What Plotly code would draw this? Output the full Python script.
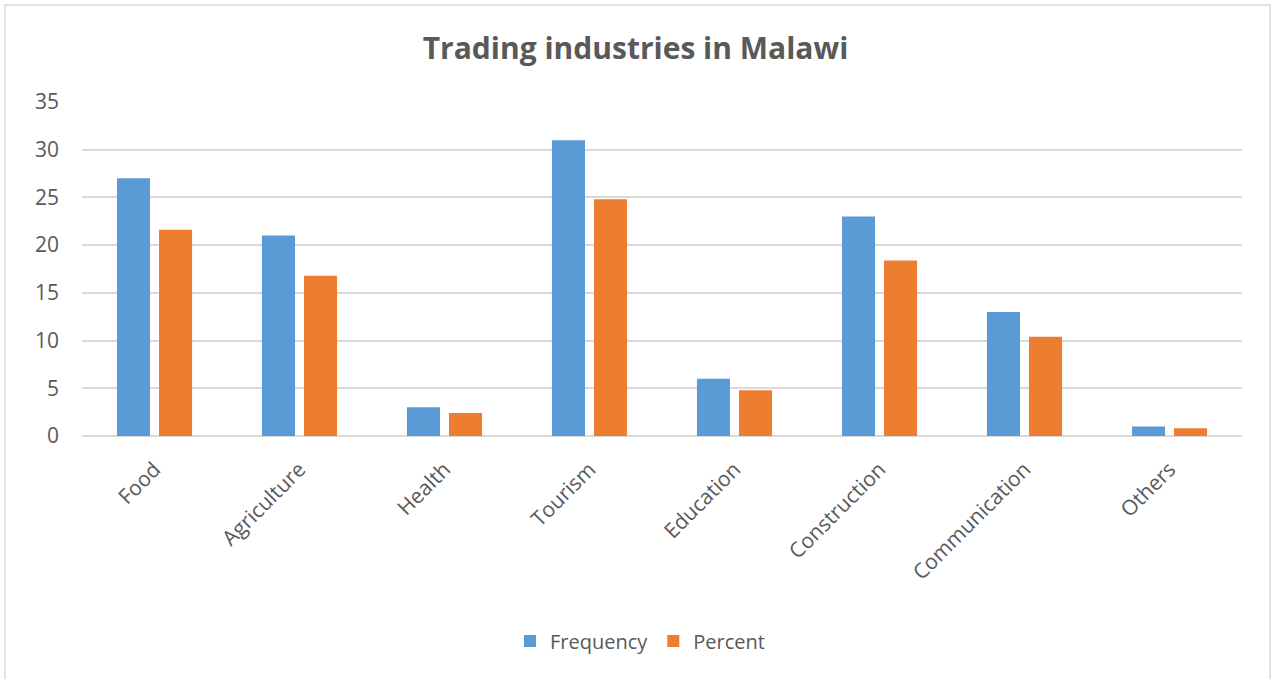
import plotly.graph_objects as go

categories = ["Food", "Agriculture", "Health", "Tourism", "Education", "Construction", "Communication", "Others"]
frequency = [27, 21, 3, 31, 6, 23, 13, 1]
percent = [21.6, 16.8, 2.4, 24.8, 4.8, 18.4, 10.4, 0.8]
y_ticks = [0, 5, 10, 15, 20, 25, 30, 35]

FONT = "Open Sans"
TXT = "#595959"
GRID = "#d9d9d9"

fig = go.Figure()
fig.add_trace(go.Bar(name="Frequency", x=categories, y=frequency, marker=dict(color="#5B9BD5", line=dict(width=0))))
fig.add_trace(go.Bar(name="Percent", x=categories, y=percent, marker=dict(color="#ED7D31", line=dict(width=0))))

W, H = 1271, 679
L, R, T, B = 82, 29, 102, 243
pw, ph = W - L - R, H - T - B

def px(x):
    return (x - L) / pw

def py(y):
    return (H - B - y) / ph

fig.update_layout(
    width=W, height=H,
    margin=dict(l=L, r=R, t=T, b=B, autoexpand=False),
    paper_bgcolor="white", plot_bgcolor="white",
    font=dict(family=FONT, color=TXT, size=20),
    title=dict(text="<b>Trading industries in Malawi</b>", x=0.5, xref="container", xanchor="center",
               y=1 - 48 / H, yref="container", yanchor="middle",
               font=dict(family=FONT, size=30, color=TXT)),
    barmode="group", bargap=0.42, bargroupgap=0.214,
    showlegend=True,
    legend=dict(orientation="h", x=px(640), xanchor="center", y=py(641), yanchor="middle",
                font=dict(family=FONT, size=20, color=TXT), itemsizing="constant",
                traceorder="normal", itemwidth=30),
    xaxis=dict(tickangle=-45, showgrid=False, showline=False, ticks="", ticklabelstandoff=16,
               tickfont=dict(family=FONT, size=21, color=TXT)),
    yaxis=dict(range=[0, 35], tickvals=y_ticks, showgrid=True, gridcolor=GRID, gridwidth=1.5,
               zeroline=True, zerolinecolor=GRID, zerolinewidth=1.5, showline=False, ticks="",
               ticklabelstandoff=22, tickfont=dict(family=FONT, size=21, color=TXT)),
    shapes=[dict(type="rect", xref="paper", yref="paper",
                 x0=px(5), x1=px(1270), y0=py(700), y1=py(5),
                 line=dict(color=GRID, width=1.5), fillcolor="rgba(0,0,0,0)", layer="below")],
)

fig.write_html("out.html")
